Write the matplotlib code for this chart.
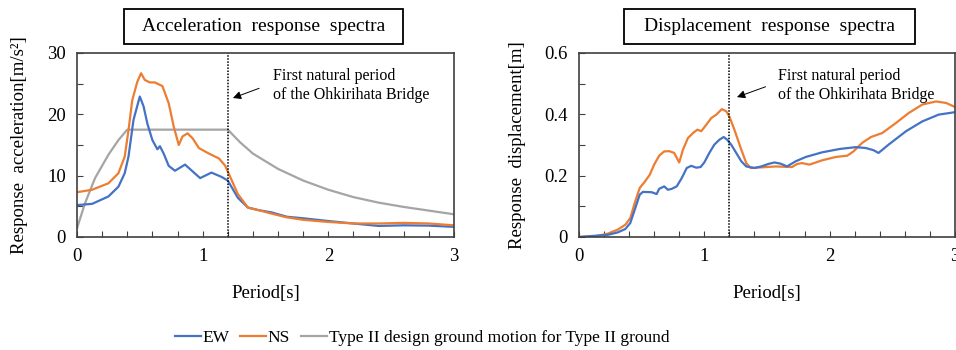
import numpy as np
import matplotlib
matplotlib.use('Agg')
import matplotlib.pyplot as plt
from matplotlib.patches import Rectangle
from matplotlib.lines import Line2D

plt.rcParams['font.family'] = ['Liberation Serif', 'DejaVu Serif']

# acceleration response spectra [m/s2]
t_acc_ew = [0, 0.12, 0.25, 0.33, 0.38, 0.41, 0.45, 0.5, 0.53, 0.56, 0.6, 0.64, 0.66, 0.69, 0.73,
            0.78, 0.86, 0.92, 0.98, 1.07, 1.15, 1.2, 1.28, 1.36, 1.44, 1.55, 1.67, 1.8, 2.0,
            2.2, 2.4, 2.6, 2.8, 3.0]
acc_ew = [5.2, 5.4, 6.6, 8.2, 10.4, 13.1, 19.1, 22.9, 21.3, 18.5, 15.8, 14.3, 14.8, 13.6, 11.6,
          10.8, 11.8, 10.7, 9.6, 10.5, 9.8, 9.2, 6.4, 4.8, 4.4, 4.0, 3.3, 3.05, 2.6,
          2.2, 1.8, 1.9, 1.85, 1.65]

t_acc_ns = [0, 0.12, 0.25, 0.33, 0.38, 0.41, 0.44, 0.48, 0.51, 0.54, 0.58, 0.62, 0.68, 0.73,
            0.77, 0.81, 0.84, 0.88, 0.92, 0.97, 1.05, 1.13, 1.18, 1.28, 1.36, 1.44, 1.55, 1.67,
            1.8, 2.0, 2.2, 2.4, 2.6, 2.8, 3.0]
acc_ns = [7.3, 7.7, 8.75, 10.4, 13.1, 17.4, 22.3, 25.3, 26.7, 25.6, 25.2, 25.2, 24.6, 21.8,
          18.0, 15.0, 16.4, 16.9, 16.1, 14.5, 13.6, 12.8, 11.6, 7.0, 4.8, 4.4, 3.8, 3.2,
          2.8, 2.45, 2.2, 2.2, 2.3, 2.2, 1.9]

t_design = [0, 0.064, 0.144, 0.25, 0.33, 0.4, 1.2, 1.3, 1.4, 1.6, 1.8, 2.0, 2.2, 2.4, 2.6, 2.8, 3.0]
acc_design = [1.4, 5.5, 9.6, 13.4, 15.8, 17.5, 17.5, 15.4, 13.6, 11.1, 9.2, 7.7, 6.5, 5.6, 4.9, 4.3, 3.7]

# displacement response spectra [m]
t_dis_ew = [0, 0.23, 0.31, 0.37, 0.41, 0.445, 0.485, 0.51, 0.58, 0.62, 0.64, 0.68, 0.71, 0.74,
            0.78, 0.82, 0.86, 0.896, 0.936, 0.97, 1.0, 1.04, 1.08, 1.12, 1.155, 1.183, 1.215,
            1.255, 1.295, 1.335, 1.4, 1.455, 1.51, 1.56, 1.61, 1.66, 1.73, 1.81, 1.94, 2.08,
            2.21, 2.29, 2.35, 2.39, 2.47, 2.61, 2.74, 2.87, 3.0]
dis_ew = [0, 0.007, 0.015, 0.026, 0.046, 0.089, 0.138, 0.147, 0.146, 0.14, 0.157, 0.165, 0.154, 0.157,
          0.165, 0.192, 0.225, 0.232, 0.226, 0.228, 0.243, 0.274, 0.301, 0.317, 0.326, 0.317, 0.301,
          0.274, 0.247, 0.23, 0.225, 0.23, 0.238, 0.243, 0.239, 0.23, 0.247, 0.261, 0.276, 0.287,
          0.293, 0.29, 0.283, 0.274, 0.301, 0.345, 0.377, 0.399, 0.407]

t_dis_ns = [0, 0.127, 0.23, 0.31, 0.37, 0.41, 0.445, 0.485, 0.525, 0.565, 0.6, 0.64, 0.68, 0.72,
            0.76, 0.8, 0.83, 0.87, 0.91, 0.945, 0.976, 1.016, 1.056, 1.096, 1.14, 1.175, 1.2,
            1.24, 1.295, 1.335, 1.37, 1.455, 1.57, 1.7, 1.74, 1.78, 1.84, 1.94, 2.05, 2.14,
            2.19, 2.26, 2.33, 2.42, 2.53, 2.63, 2.74, 2.85, 2.93, 3.0]
dis_ns = [0, 0.002, 0.011, 0.024, 0.04, 0.062, 0.111, 0.16, 0.18, 0.203, 0.236, 0.265, 0.279, 0.28,
          0.274, 0.243, 0.285, 0.323, 0.339, 0.35, 0.345, 0.366, 0.388, 0.399, 0.417, 0.41, 0.393,
          0.35, 0.285, 0.241, 0.225, 0.227, 0.23, 0.228, 0.238, 0.241, 0.236, 0.25, 0.261, 0.265,
          0.279, 0.307, 0.326, 0.339, 0.372, 0.404, 0.432, 0.442, 0.437, 0.424]

t_bridge = 1.2

c_ew = '#4472C4'
c_ns = '#ED7D31'
c_design = '#A5A5A5'

fig = plt.figure(figsize=(9.56, 3.5), dpi=100)
ax1 = fig.add_axes([0.0805, 0.3229, 0.3944, 0.5257])
ax2 = fig.add_axes([0.6056, 0.3229, 0.3933, 0.5257])

ax1.plot(t_design, acc_design, color=c_design, lw=1.6)
ax1.plot(t_acc_ew, acc_ew, color=c_ew, lw=1.6)
ax1.plot(t_acc_ns, acc_ns, color=c_ns, lw=1.6)
ax1.set_ylim(0, 30)
ax1.set_yticks([0, 10, 20, 30])
ax1.set_yticks([5, 15, 25], minor=True)
ax1.set_ylabel('Response  acceleration[m/s²]', fontsize=13.5, labelpad=14)
ax1.text(1.557, 24.65, 'First natural period\nof the Ohkirihata Bridge', fontsize=11.5,
         ha='left', va='center', linespacing=1.25)
ax1.annotate('', xy=(1.22, 22.5), xytext=(1.47, 24.4),
             arrowprops=dict(arrowstyle='-|>', color='black', lw=0.7, mutation_scale=12))

ax2.plot(t_dis_ns, dis_ns, color=c_ns, lw=1.6)
ax2.plot(t_dis_ew, dis_ew, color=c_ew, lw=1.6)
ax2.set_ylim(0, 0.6)
ax2.set_yticks([0, 0.2, 0.4, 0.6])
ax2.set_yticklabels(['0', '0.2', '0.4', '0.6'])
ax2.set_yticks([0.1, 0.3, 0.5], minor=True)
ax2.set_ylabel('Response  displacement[m]', fontsize=13.5, labelpad=13)
ax2.text(1.59, 0.493, 'First natural period\nof the Ohkirihata Bridge', fontsize=11.5,
         ha='left', va='center', linespacing=1.25)
ax2.annotate('', xy=(1.24, 0.453), xytext=(1.51, 0.493),
             arrowprops=dict(arrowstyle='-|>', color='black', lw=0.7, mutation_scale=12))

for ax in (ax1, ax2):
    ax.axvline(t_bridge, color='black', ls=(0, (1, 1)), lw=1.1)
    ax.set_xlim(0, 3)
    ax.set_xticks([0, 1, 2, 3])
    ax.set_xticks([0.2, 0.4, 0.6, 0.8, 1.2, 1.4, 1.6, 1.8, 2.2, 2.4, 2.6, 2.8], minor=True)
    ax.set_xlabel('Period[s]', fontsize=13.5, labelpad=14)
    ax.tick_params(which='both', direction='in', length=4, width=0.8, labelsize=13.5,
                   color='#404040')
    ax.tick_params(axis='x', pad=8)
    ax.tick_params(axis='y', pad=8)
    for sp in ax.spines.values():
        sp.set_color('#404040')
        sp.set_linewidth(1.2)

# title boxes
for x0, x1, title in [(124, 403, 'Acceleration  response  spectra'),
                      (624, 915, 'Displacement  response  spectra')]:
    fig.patches.append(Rectangle((x0 / 956, 1 - 44 / 350), (x1 - x0) / 956, 35 / 350,
                                 transform=fig.transFigure, fill=False, ec='black', lw=1.3))
    fig.text((x0 + x1) / 2 / 956, 1 - 26.5 / 350, title, fontsize=14, ha='center', va='center')

handles = [Line2D([], [], color=c_ew, lw=1.6),
           Line2D([], [], color=c_ns, lw=1.6),
           Line2D([], [], color=c_design, lw=1.6)]
fig.legend(handles, ['EW', 'NS', 'Type II design ground motion for Type II ground'],
           loc='center', bbox_to_anchor=(0.4414, 1 - 338 / 350), ncol=3, frameon=False,
           fontsize=12.5, handlelength=1.5, handletextpad=0.08, columnspacing=0.65)

plt.savefig('out.png', dpi=100)
